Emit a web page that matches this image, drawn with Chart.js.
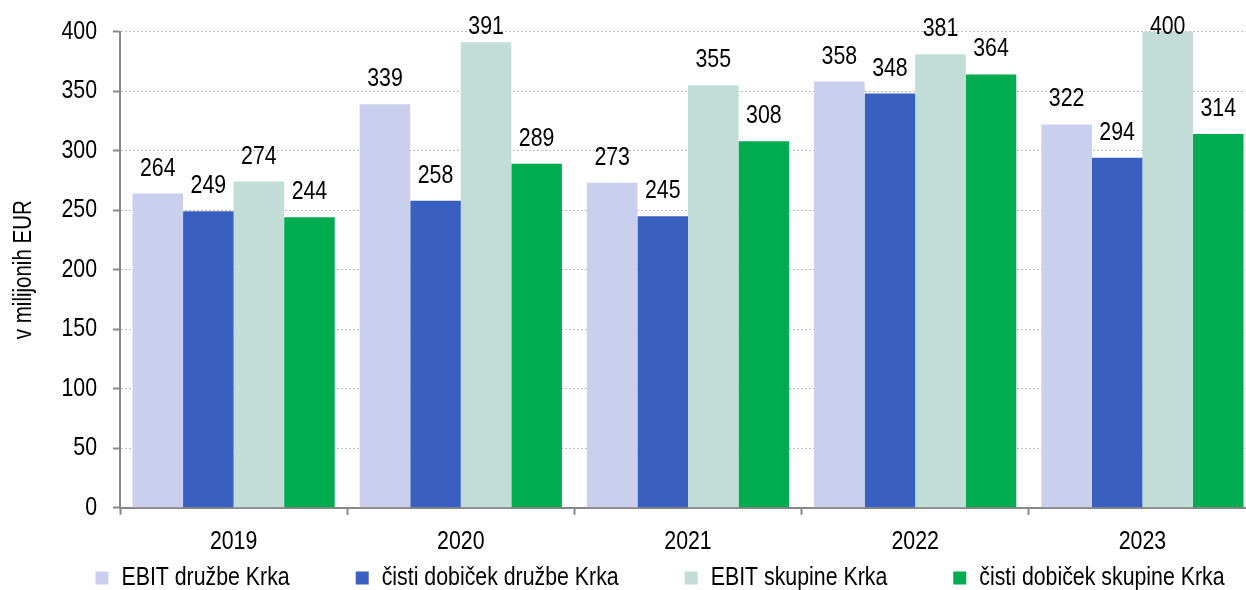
<!DOCTYPE html>
<html>
<head>
<meta charset="utf-8">
<title>EBIT in čisti dobiček Krka</title>
<script src="https://cdn.jsdelivr.net/npm/chart.js@4/dist/chart.umd.min.js"></script>
<style>
  html, body { margin: 0; padding: 0; background: #fff; overflow: hidden; }
  #wrap { width: 1256px; height: 590px; position: relative; }
</style>
</head>
<body>
<div id="wrap"><canvas id="chart"></canvas></div>
<script>
// Data
const years = ['2019', '2020', '2021', '2022', '2023'];
const ebitDruzbe = [264, 339, 273, 358, 322];
const dobicekDruzbe = [249, 258, 245, 348, 294];
const ebitSkupine = [274, 391, 355, 381, 400];
const dobicekSkupine = [244, 289, 308, 364, 314];
const seriesNames = ['EBIT družbe Krka', 'čisti dobiček družbe Krka', 'EBIT skupine Krka', 'čisti dobiček skupine Krka'];
const yMin = 0;
const yMax = 400;
const yStep = 50;

const FONT = "'Liberation Sans Narrow', 'Arial Narrow', 'Liberation Sans', Arial, sans-serif";
const colors = ['#c9cfec', '#3960c0', '#c2dcd7', '#00ac4f'];
const LEGEND_PAD = 66;

// No Arial Narrow installed: squeeze the regular face horizontally instead
const NARROW = 0.82;
const proto = CanvasRenderingContext2D.prototype;
const origFillText = proto.fillText;
const origMeasureText = proto.measureText;
proto.fillText = function (text, x, y, maxWidth) {
  this.save();
  this.translate(x, y);
  this.scale(NARROW, 1);
  if (maxWidth === undefined) origFillText.call(this, text, 0, 0);
  else origFillText.call(this, text, 0, 0, maxWidth / NARROW);
  this.restore();
};
proto.measureText = function (text) {
  const m = origMeasureText.call(this, text);
  return {
    width: m.width * NARROW,
    actualBoundingBoxLeft: m.actualBoundingBoxLeft * NARROW,
    actualBoundingBoxRight: m.actualBoundingBoxRight * NARROW,
    actualBoundingBoxAscent: m.actualBoundingBoxAscent,
    actualBoundingBoxDescent: m.actualBoundingBoxDescent,
    fontBoundingBoxAscent: m.fontBoundingBoxAscent,
    fontBoundingBoxDescent: m.fontBoundingBoxDescent
  };
};

Chart.defaults.font.family = FONT;
Chart.defaults.color = '#000';

// Value labels above each bar (kept inside the plot at the top)
const barLabels = {
  id: 'barLabels',
  afterDatasetsDraw(chart) {
    const ctx = chart.ctx;
    ctx.save();
    ctx.font = '26px ' + FONT;
    ctx.fillStyle = '#000';
    ctx.textAlign = 'center';
    ctx.textBaseline = 'alphabetic';
    chart.data.datasets.forEach((ds, i) => {
      chart.getDatasetMeta(i).data.forEach((bar, j) => {
        const y = Math.max(bar.y - 18, chart.chartArea.top + 2);
        ctx.fillText(ds.data[j], bar.x, y);
      });
    });
    ctx.restore();
  }
};

// Wide horizontal gaps in the legend on one row, without the matching vertical padding
const legendFit = {
  id: 'legendFit',
  afterInit(chart) {
    const legend = chart.legend;
    const fit = legend.fit;
    legend.fit = function () {
      const maxWidth = this.maxWidth;
      this.maxWidth = 3000;
      fit.call(this);
      this.maxWidth = maxWidth;
      this.width = maxWidth;
      this.height = 22;
    };
  },
  afterLayout(chart) {
    const legend = chart.legend;
    legend.top -= LEGEND_PAD + 3;
    // widen both sides equally (keeps the centre) so the last item stays on the row
    legend.left += 32 - 200;
    legend.right += 32 + 200;
  }
};

const datasets = [ebitDruzbe, dobicekDruzbe, ebitSkupine, dobicekSkupine].map((values, i) => ({
  label: seriesNames[i],
  data: values,
  backgroundColor: colors[i],
  borderWidth: 0,
  categoryPercentage: 0.89,
  barPercentage: 1.0
}));

new Chart(document.getElementById('chart'), {
  type: 'bar',
  data: { labels: years, datasets: datasets },
  plugins: [barLabels, legendFit],
  options: {
    responsive: true,
    maintainAspectRatio: false,
    animation: false,
    layout: { padding: { top: 29, left: 0, right: 0, bottom: 0 } },
    plugins: {
      tooltip: { enabled: false },
      legend: {
        position: 'bottom',
        labels: {
          boxWidth: 13,
          boxHeight: 13,
          padding: LEGEND_PAD,
          color: '#000',
          font: { size: 26 }
        }
      }
    },
    scales: {
      x: {
        grid: {
          display: true,
          offset: true,
          drawOnChartArea: false,
          tickLength: 7,
          tickColor: '#888',
          tickWidth: 2
        },
        border: { display: true, color: '#888', width: 2 },
        ticks: { padding: 11, color: '#000', font: { size: 26 } }
      },
      y: {
        min: yMin,
        max: yMax,
        afterFit(scale) { scale.width = 120; },
        ticks: { stepSize: yStep, padding: 16, color: '#000', font: { size: 26 } },
        grid: {
          color: '#bdbdbd',
          lineWidth: 1,
          tickLength: 7,
          tickColor: '#888',
          tickWidth: 2
        },
        border: { display: true, color: '#888', width: 2, dash: [2, 2] },
        title: {
          display: true,
          text: 'v milijonih EUR',
          color: '#000',
          font: { size: 25 },
          padding: { top: 9, bottom: 0 }
        }
      }
    }
  }
});
</script>
</body>
</html>
